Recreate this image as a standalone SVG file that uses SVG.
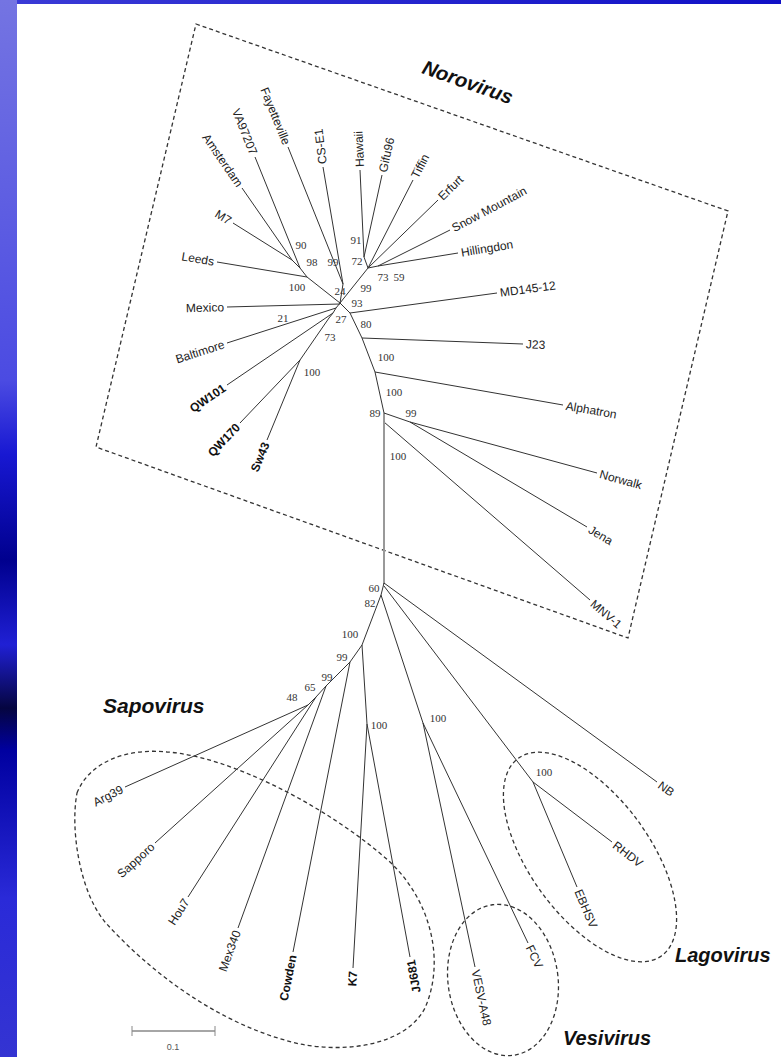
<svg xmlns="http://www.w3.org/2000/svg" width="781" height="1057" viewBox="0 0 781 1057">
<defs>
<linearGradient id="leftBlue" x1="0" y1="0" x2="0" y2="1">
<stop offset="0" stop-color="#7474e2"/>
<stop offset="0.36" stop-color="#4b4be2"/>
<stop offset="0.43" stop-color="#1818d2"/>
<stop offset="0.53" stop-color="#00008e"/>
<stop offset="0.61" stop-color="#2020d4"/>
<stop offset="0.67" stop-color="#050540"/>
<stop offset="0.71" stop-color="#0000a0"/>
<stop offset="0.85" stop-color="#2a2ad8"/>
<stop offset="1" stop-color="#3434d2"/>
</linearGradient>
<linearGradient id="topBlue" x1="0" y1="0" x2="1" y2="0">
<stop offset="0" stop-color="#3a3ad6"/>
<stop offset="1" stop-color="#1010c6"/>
</linearGradient>
<style>
.br{stroke:#333;stroke-width:1;fill:none}
.trunk{stroke:#999;stroke-width:2;fill:none}
.dash{stroke:#333;stroke-width:1.3;fill:none;stroke-dasharray:4 3}
.lf{font-family:"Liberation Sans",Arial,sans-serif;font-size:12px;fill:#222}
.lb{font-family:"Liberation Sans",Arial,sans-serif;font-size:12px;font-weight:bold;fill:#111}
.bs{font-family:"Liberation Serif","Times New Roman",serif;font-size:11px;fill:#333;text-anchor:middle}
.grp{font-family:"Liberation Sans",Arial,sans-serif;font-size:20px;font-weight:bold;font-style:italic;fill:#111}
.e{text-anchor:end}
</style>
</defs>
<rect x="0" y="0" width="781" height="1057" fill="#ffffff"/>
<rect x="0" y="0" width="17" height="1057" fill="url(#leftBlue)"/>
<rect x="17" y="0" width="764" height="4" fill="url(#topBlue)"/>

<g id="clusters">
<polygon id="norovirus-box" class="dash" points="196,24 728,211 628,638 96,447"/>
<path id="sapovirus-ellipse" class="dash" d="M77,793 C90,760 130,748 167,752 C230,756 330,808 390,862 C432,902 445,962 425,1008 C405,1046 345,1053 300,1044 C220,1026 150,972 105,922 C80,892 70,830 77,793 Z"/>
<ellipse id="vesivirus-ellipse" class="dash" cx="503" cy="980" rx="55" ry="76" transform="rotate(-8 503 980)"/>
<ellipse id="lagovirus-ellipse" class="dash" cx="590" cy="857" rx="122" ry="60" transform="rotate(54 590 857)"/>
</g>

<g id="connectors">
<!-- Norovirus internal -->
<polyline class="br" points="242,188 292,260 300,268 307,277 340,303"/>
<line class="br" x1="233" y1="223" x2="292" y2="260"/>
<line class="br" x1="255" y1="157" x2="300" y2="268"/>
<line class="br" x1="217" y1="262" x2="307" y2="277"/>
<line class="br" x1="288" y1="147" x2="343" y2="284"/>
<line class="br" x1="323" y1="167" x2="343" y2="284"/>
<line class="br" x1="343" y1="284" x2="340" y2="303"/>
<line class="br" x1="360" y1="170" x2="364" y2="257"/>
<line class="br" x1="382" y1="175" x2="364" y2="257"/>
<line class="br" x1="364" y1="257" x2="368" y2="268"/>
<line class="br" x1="413" y1="180" x2="368" y2="268"/>
<line class="br" x1="438" y1="200" x2="368" y2="268"/>
<line class="br" x1="450" y1="230" x2="378" y2="266"/>
<line class="br" x1="458" y1="253" x2="378" y2="266"/>
<line class="br" x1="378" y1="266" x2="368" y2="268"/>
<line class="br" x1="368" y1="268" x2="340" y2="303"/>
<line class="br" x1="227" y1="307" x2="340" y2="304"/>
<polyline class="br" points="340,303 336,308 333,313 329,318 300,360"/>
<line class="br" x1="227" y1="343" x2="336" y2="308"/>
<line class="br" x1="227" y1="385" x2="333" y2="313"/>
<line class="br" x1="240" y1="423" x2="300" y2="360"/>
<line class="br" x1="267" y1="440" x2="300" y2="360"/>
<polyline class="br" points="340,303 350,313 362,338 375,372 384,413 384,422"/>
<line class="br" x1="350" y1="313" x2="497" y2="293"/>
<line class="br" x1="362" y1="338" x2="523" y2="344"/>
<line class="br" x1="375" y1="372" x2="563" y2="405"/>
<line class="br" x1="384" y1="413" x2="410" y2="422"/>
<line class="br" x1="410" y1="422" x2="597" y2="473"/>
<line class="br" x1="410" y1="422" x2="587" y2="527"/>
<line class="br" x1="384" y1="422" x2="590" y2="600"/>
<line class="trunk" x1="384" y1="422" x2="384" y2="584"/>
<!-- lower tree -->
<line class="br" x1="384" y1="583" x2="657" y2="782"/>
<line class="br" x1="384" y1="586" x2="533" y2="782"/>
<line class="br" x1="533" y1="782" x2="612" y2="842"/>
<line class="br" x1="533" y1="782" x2="577" y2="887"/>
<polyline class="br" points="384,583 381,595 362,645 350,662 326,686 316,697 308,705"/>
<line class="br" x1="381" y1="595" x2="423" y2="723"/>
<line class="br" x1="423" y1="723" x2="528" y2="943"/>
<line class="br" x1="423" y1="723" x2="475" y2="967"/>
<line class="br" x1="362" y1="645" x2="367" y2="724"/>
<line class="br" x1="367" y1="724" x2="353" y2="968"/>
<line class="br" x1="367" y1="724" x2="410" y2="957"/>
<line class="br" x1="350" y1="662" x2="293" y2="952"/>
<line class="br" x1="326" y1="686" x2="238" y2="928"/>
<line class="br" x1="316" y1="697" x2="188" y2="897"/>
<line class="br" x1="308" y1="705" x2="155" y2="843"/>
<line class="br" x1="308" y1="705" x2="125" y2="787"/>
</g>

<g id="leaves">
<g id="Amsterdam" transform="translate(242,188) rotate(55.2)"><text class="lf e" x="-3" dy="0.35em">Amsterdam</text></g>
<g id="M7" transform="translate(233,223) rotate(32)"><text class="lf e" x="-3" dy="0.35em">M7</text></g>
<g id="VA97207" transform="translate(255,157) rotate(67.9)"><text class="lf e" x="-3" dy="0.35em">VA97207</text></g>
<g id="Fayetteville" transform="translate(288,147) rotate(68.1)"><text class="lf e" x="-3" dy="0.35em">Fayetteville</text></g>
<g id="CS-E1" transform="translate(323,167) rotate(-97)"><text class="lf" x="3" dy="0.35em">CS-E1</text></g>
<g id="Hawaii" transform="translate(360,170) rotate(-92.6)"><text class="lf" x="3" dy="0.35em">Hawaii</text></g>
<g id="Gifu96" transform="translate(382,175) rotate(-77.6)"><text class="lf" x="3" dy="0.35em">Gifu96</text></g>
<g id="Tiffin" transform="translate(413,180) rotate(-62.9)"><text class="lf" x="3" dy="0.35em">Tiffin</text></g>
<g id="Erfurt" transform="translate(438,200) rotate(-44.2)"><text class="lf" x="3" dy="0.35em">Erfurt</text></g>
<g id="SnowMountain" transform="translate(450,230) rotate(-28)"><text class="lf" x="3" dy="0.35em">Snow Mountain</text></g>
<g id="Hillingdon" transform="translate(458,253) rotate(-9.2)"><text class="lf" x="3" dy="0.35em">Hillingdon</text></g>
<g id="MD145-12" transform="translate(497,293) rotate(-7.7)"><text class="lf" x="3" dy="0.35em">MD145-12</text></g>
<g id="J23" transform="translate(523,344) rotate(2.1)"><text class="lf" x="3" dy="0.35em">J23</text></g>
<g id="Alphatron" transform="translate(563,405) rotate(10)"><text class="lf" x="3" dy="0.35em">Alphatron</text></g>
<g id="Norwalk" transform="translate(597,473) rotate(15.3)"><text class="lf" x="3" dy="0.35em">Norwalk</text></g>
<g id="Jena" transform="translate(587,527) rotate(30.7)"><text class="lf" x="3" dy="0.35em">Jena</text></g>
<g id="MNV-1" transform="translate(590,600) rotate(40.8)"><text class="lf" x="3" dy="0.35em">MNV-1</text></g>
<g id="Leeds" transform="translate(217,262) rotate(9.5)"><text class="lf e" x="-3" dy="0.35em">Leeds</text></g>
<g id="Mexico" transform="translate(227,307) rotate(-1.5)"><text class="lf e" x="-3" dy="0.35em">Mexico</text></g>
<g id="Baltimore" transform="translate(227,343) rotate(-17.8)"><text class="lf e" x="-3" dy="0.35em">Baltimore</text></g>
<g id="QW101" transform="translate(227,385) rotate(-34.2)"><text class="lb e" x="-3" dy="0.35em">QW101</text></g>
<g id="QW170" transform="translate(240,423) rotate(-46.4)"><text class="lb e" x="-3" dy="0.35em">QW170</text></g>
<g id="Sw43" transform="translate(267,440) rotate(-67.6)"><text class="lb e" x="-3" dy="0.35em">Sw43</text></g>
<g id="Arg39" transform="translate(125,787) rotate(-27)"><text class="lf e" x="-3" dy="0.35em">Arg39</text></g>
<g id="Sapporo" transform="translate(155,843) rotate(-42)"><text class="lf e" x="-3" dy="0.35em">Sapporo</text></g>
<g id="Hou7" transform="translate(188,897) rotate(-57.4)"><text class="lf e" x="-3" dy="0.35em">Hou7</text></g>
<g id="Mex340" transform="translate(238,928) rotate(-70)"><text class="lf e" x="-3" dy="0.35em">Mex340</text></g>
<g id="Cowden" transform="translate(293,952) rotate(-78.9)"><text class="lb e" x="-3" dy="0.35em">Cowden</text></g>
<g id="K7" transform="translate(353,968) rotate(-86.7)"><text class="lb e" x="-3" dy="0.35em">K7</text></g>
<g id="JJ681" transform="translate(410,957) rotate(-100.5)"><text class="lb e" x="-3" dy="0.35em">JJ681</text></g>
<g id="VESV-A48" transform="translate(475,967) rotate(78)"><text class="lf" x="3" dy="0.35em">VESV-A48</text></g>
<g id="FCV" transform="translate(528,943) rotate(64.5)"><text class="lf" x="3" dy="0.35em">FCV</text></g>
<g id="EBHSV" transform="translate(577,887) rotate(67.3)"><text class="lf" x="3" dy="0.35em">EBHSV</text></g>
<g id="RHDV" transform="translate(612,842) rotate(37.2)"><text class="lf" x="3" dy="0.35em">RHDV</text></g>
<g id="NB" transform="translate(657,782) rotate(36.1)"><text class="lf" x="3" dy="0.35em">NB</text></g>
</g>

<g id="support-values">
<text class="bs" x="301" y="249">90</text>
<text class="bs" x="312" y="266">98</text>
<text class="bs" x="333" y="266">99</text>
<text class="bs" x="356" y="244">91</text>
<text class="bs" x="357" y="265">72</text>
<text class="bs" x="383" y="281">73</text>
<text class="bs" x="399" y="281">59</text>
<text class="bs" x="297" y="291">100</text>
<text class="bs" x="340" y="295">24</text>
<text class="bs" x="366" y="292">99</text>
<text class="bs" x="357" y="307">93</text>
<text class="bs" x="283" y="322">21</text>
<text class="bs" x="341" y="323">27</text>
<text class="bs" x="366" y="328">80</text>
<text class="bs" x="330" y="341">73</text>
<text class="bs" x="312" y="376">100</text>
<text class="bs" x="386" y="361">100</text>
<text class="bs" x="394" y="396">100</text>
<text class="bs" x="375" y="417">89</text>
<text class="bs" x="411" y="417">99</text>
<text class="bs" x="398" y="460">100</text>
<text class="bs" x="374" y="592">60</text>
<text class="bs" x="370" y="607">82</text>
<text class="bs" x="350" y="638">100</text>
<text class="bs" x="342" y="661">99</text>
<text class="bs" x="327" y="681">99</text>
<text class="bs" x="310" y="691">65</text>
<text class="bs" x="292" y="701">48</text>
<text class="bs" x="379" y="729">100</text>
<text class="bs" x="438" y="722">100</text>
<text class="bs" x="544" y="776">100</text>
</g>

<g id="group-labels">
<text class="grp" transform="translate(421,73) rotate(19.4)">Norovirus</text>
<text class="grp" x="103" y="713" style="font-size:21px">Sapovirus</text>
<text class="grp" x="675" y="962">Lagovirus</text>
<text class="grp" x="563" y="1045">Vesivirus</text>
</g>

<g id="scale-bar">
<line x1="132" y1="1031" x2="215" y2="1031" stroke="#888" stroke-width="1.5"/>
<line x1="132" y1="1026" x2="132" y2="1036" stroke="#888" stroke-width="1"/>
<line x1="215" y1="1026" x2="215" y2="1036" stroke="#888" stroke-width="1"/>
<text x="173" y="1050" style="font-family:'Liberation Sans',Arial,sans-serif;font-size:9px;fill:#555;text-anchor:middle">0.1</text>
</g>
</svg>
